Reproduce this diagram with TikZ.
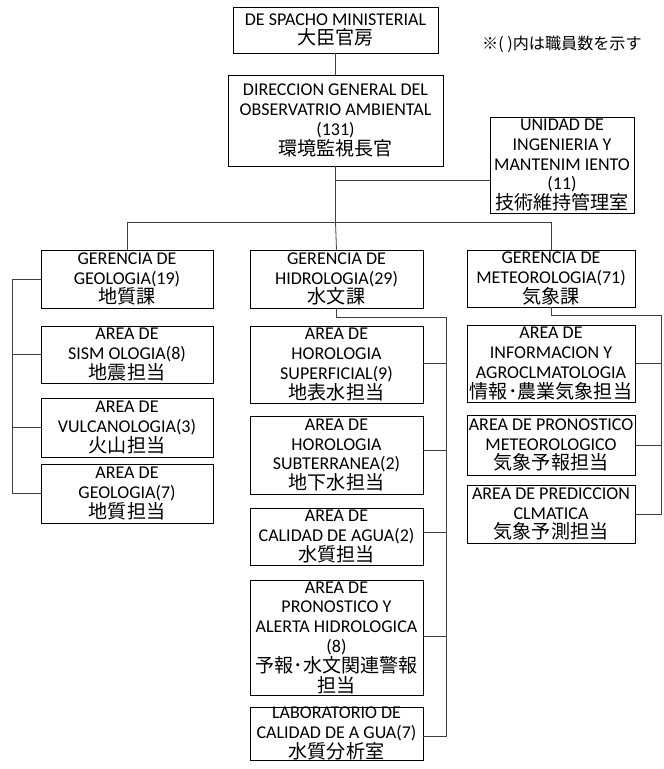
\documentclass[tikz,border=0pt]{standalone}
\usepackage{fontspec}
\setmainfont{Carlito}
\newfontfamily\jpfont[Scale=1.06]{Noto Sans CJK JP}
\begin{document}
\begin{tikzpicture}[x=1pt,y=-1pt,
  box/.style={draw=black, line width=0.9pt, inner sep=0pt, align=center,
    font=\fontsize{18}{19.8}\selectfont},
  conn/.style={draw=black!75, line width=0.8pt}]
\useasboundingbox (0,0) rectangle (664,769);
% top level
\node[box, minimum width=205pt, minimum height=46pt] (top) at (335.5,30) {DE SPACHO MINISTERIAL\\{\jpfont 大臣官房}};
\node[box, minimum width=215pt, minimum height=91pt] (dir) at (335.5,120.5) {DIRECCION GENERAL DEL\\OBSERVATRIO AMBIENTAL\\(131)\\{\jpfont 環境監視長官}};
\node[box, minimum width=144pt, minimum height=96pt] (uni) at (562,165) {UNIDAD DE\\INGENIERIA Y\\MANTENIM IENTO\\(11)\\{\jpfont 技術維持管理室}};
\node[anchor=west, inner sep=0pt, font=\fontsize{15.2}{18}\selectfont\jpfont] (note) at (482,44) {※( )内は職員数を示す};
% geology column
\node[box, minimum width=172pt, minimum height=58pt] (geo) at (127,279) {GERENCIA DE\\GEOLOGIA(19)\\{\jpfont 地質課}};
\node[box, minimum width=172pt, minimum height=57pt] (sism) at (127,354.5) {AREA DE\\SISM OLOGIA(8)\\{\jpfont 地震担当}};
\node[box, minimum width=172pt, minimum height=59pt] (vulc) at (127,427.5) {AREA DE\\VULCANOLOGIA(3)\\{\jpfont 火山担当}};
\node[box, minimum width=172pt, minimum height=59pt] (geol) at (127,493.5) {AREA DE\\GEOLOGIA(7)\\{\jpfont 地質担当}};
% hydrology column
\node[box, minimum width=173pt, minimum height=58pt] (hid) at (336.5,279) {GERENCIA DE\\HIDROLOGIA(29)\\{\jpfont 水文課}};
\node[box, minimum width=173pt, minimum height=77pt] (sup) at (336.5,364.5) {AREA DE\\HOROLOGIA\\SUPERFICIAL(9)\\{\jpfont 地表水担当}};
\node[box, minimum width=173pt, minimum height=78pt] (sub) at (336.5,455) {AREA DE\\HOROLOGIA\\SUBTERRANEA(2)\\{\jpfont 地下水担当}};
\node[box, minimum width=173pt, minimum height=57pt] (cal) at (336.5,536.5) {AREA DE\\CALIDAD DE AGUA(2)\\{\jpfont 水質担当}};
\node[box, minimum width=173pt, minimum height=115pt] (pron) at (336.5,637.5) {AREA DE\\PRONOSTICO Y\\ALERTA HIDROLOGICA\\(8)\\{\jpfont 予報･水文関連警報}\\{\jpfont 担当}};
\node[box, minimum width=173pt, minimum height=47pt] (lab) at (336.5,733.5) {LABORATORIO DE\\CALIDAD DE A GUA(7)\\{\jpfont 水質分析室}};
% meteorology column
\node[box, minimum width=168pt, minimum height=57pt] (met) at (551,278.5) {GERENCIA DE\\METEOROLOGIA(71)\\{\jpfont 気象課}};
\node[box, minimum width=168pt, minimum height=77pt] (info) at (551,363.5) {AREA DE\\INFORMACION Y\\AGROCLMATOLOGIA\\{\jpfont 情報･農業気象担当}};
\node[box, minimum width=168pt, minimum height=60pt] (pmet) at (551,445) {AREA DE PRONOSTICO\\METEOROLOGICO\\{\jpfont 気象予報担当}};
\node[box, minimum width=168pt, minimum height=58pt] (pcli) at (551,514) {AREA DE PREDICCION\\CLMATICA\\{\jpfont 気象予測担当}};
% connectors: top
\coordinate (bus) at (335.5,222);
\coordinate (j1) at (335.5,180);
\draw[conn] (top) -- (dir);
\draw[conn] (dir.south) -- (bus);
\draw[conn] (j1) -- (j1 -| uni.west);
\draw[conn] (geo.north) -- (geo.north |- bus) -- (met.north |- bus) -- (met.north);
\draw[conn] (bus) -- (hid.north);
% geology bracket
\coordinate (gL) at (12,279);
\draw[conn] (geo.west) -- (gL) |- (geol.west);
\draw[conn] (sism.west) -- (sism.west -| gL);
\draw[conn] (vulc.west) -- (vulc.west -| gL);
% hydrology bracket
\coordinate (hR) at (446,317);
\draw[conn] (hid.south) |- (hR) |- ([yshift=-3pt]lab.east);
\draw[conn] ([yshift=1pt]sup.east) -- ([yshift=1pt]sup.east -| hR);
\draw[conn] ([yshift=5pt]sub.east) -- ([yshift=5pt]sub.east -| hR);
\draw[conn] ([yshift=4pt]cal.east) -- ([yshift=4pt]cal.east -| hR);
\draw[conn] ([yshift=1pt]pron.east) -- ([yshift=1pt]pron.east -| hR);
% meteorology bracket
\coordinate (mR) at (661,315);
\draw[conn] (met.south) |- (mR) |- (pcli.east);
\draw[conn] (info.east) -- (info.east -| mR);
\draw[conn] (pmet.east) -- (pmet.east -| mR);
\end{tikzpicture}
\end{document}
